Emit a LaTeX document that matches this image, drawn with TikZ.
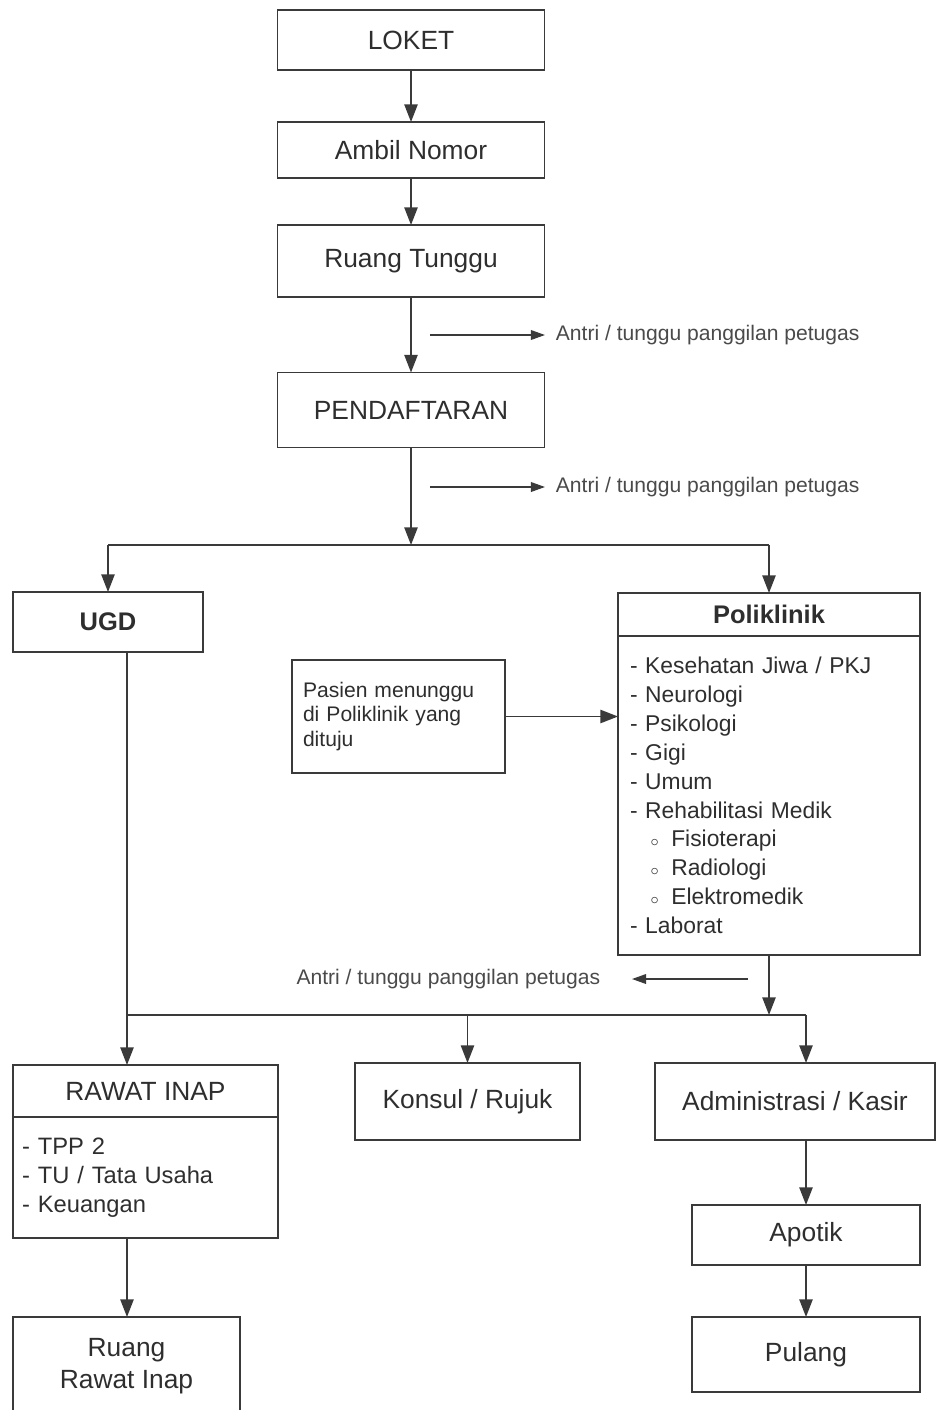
\documentclass[tikz,border=0pt]{standalone}
\usepackage{fontspec}
\setmainfont{Liberation Sans}
\usetikzlibrary{
  arrows.meta,
  positioning,
  calc
}
\definecolor{fxLine}{HTML}{3A3A3A}
\definecolor{fxText}{HTML}{2E2E2E}
\definecolor{fxNote}{HTML}{4A4A4A}
\newcommand{\polisub}[1]{\hspace*{0.9em}{\small$\circ$}\hspace{0.55em}#1}
\tikzset{
  fxbox/.style={
    draw=fxLine, line width=1pt, text=fxText, align=center,
    inner sep=2pt, outer sep=0pt, font=\fontsize{15}{18}\selectfont
  },
  fxhead/.style={fxbox, font=\fontsize{14.5}{17}\selectfont\bfseries},
  fxlist/.style={fxbox, align=left, anchor=north},
  fxnote/.style={text=fxNote, inner sep=2pt, font=\fontsize{12}{14}\selectfont},
  flow/.style={-{Triangle[length=10pt, width=7.5pt]}, line width=1pt, fxLine},
  link/.style={line width=1pt, fxLine},
  noteflow/.style={-{Triangle[length=8pt, width=5.5pt]}, line width=0.8pt, fxLine}
}

\begin{document}
\begin{tikzpicture}[x=0.02cm, y=-0.02cm]
  \clip (0,0) rectangle (936,1410);

  % main column
  \node[fxbox, minimum width=5.34cm, minimum height=1.2cm] (loket) at (411,40) {LOKET};
  \node[fxbox, minimum width=5.34cm, minimum height=1.12cm] (ambil) at (411,150) {Ambil Nomor};
  \node[fxbox, minimum width=5.34cm, minimum height=1.44cm] (tunggu) at (411,261) {Ruang Tunggu};
  \node[fxbox, minimum width=5.34cm, minimum height=1.5cm] (daftar) at (411,410) {PENDAFTARAN};

  \node[fxnote, anchor=west] (antri1) at (552,335) {Antri / tunggu panggilan petugas};
  \node[fxnote, anchor=west] (antri2) at (552,487) {Antri / tunggu panggilan petugas};
  \coordinate (n1) at (430,335);
  \coordinate (n2) at (430,487);
  \coordinate (bus1) at (411,545);

  % UGD and Poliklinik
  \node[fxhead, minimum width=3.8cm, minimum height=1.2cm] (ugd) at (108,622) {UGD};
  \node[fxhead, minimum width=6.04cm, minimum height=0.86cm] (poli) at (769,614.5) {Poliklinik};
  \node[fxlist, minimum width=6.04cm, minimum height=6.38cm, inner xsep=0.24cm,
        text width=5.56cm, font=\fontsize{13}{16.4}\selectfont] (polilist) at (poli.south) {%
    - Kesehatan Jiwa / PKJ\\
    - Neurologi\\
    - Psikologi\\
    - Gigi\\
    - Umum\\
    - Rehabilitasi Medik\\
    \polisub{Fisioterapi}\\
    \polisub{Radiologi}\\
    \polisub{Elektromedik}\\
    - Laborat};
  \node[fxbox, align=left, minimum width=4.26cm, minimum height=2.26cm, inner xsep=0.22cm,
        text width=3.82cm, font=\fontsize{12}{14.2}\selectfont] (pasien) at (398.5,716.5)
    {Pasien menunggu\\ di Poliklinik yang\\ dituju};

  \node[fxnote, anchor=east] (antri3) at (604,979) {Antri / tunggu panggilan petugas};
  \coordinate (n3) at (748,979);
  \coordinate (bus2) at (768,1015);
  \coordinate (ugdx) at (127,0);

  % lower row
  \node[fxbox, minimum width=5.3cm, minimum height=1.04cm] (rawat) at (145.5,1091) {RAWAT INAP};
  \node[fxlist, minimum width=5.3cm, minimum height=2.42cm, inner xsep=0.18cm,
        text width=4.94cm, font=\fontsize{13.5}{16.4}\selectfont] (rawatlist) at (rawat.south) {%
    - TPP 2\\
    - TU / Tata Usaha\\
    - Keuangan};
  \node[fxbox, minimum width=4.5cm, minimum height=1.54cm] (konsul) at (467.5,1101.5) {Konsul / Rujuk};
  \node[fxbox, minimum width=5.6cm, minimum height=1.54cm] (admin) at (795,1101.5) {Administrasi / Kasir};
  \node[fxbox, minimum width=4.56cm, minimum height=1.2cm] (apotik) at (806,1235) {Apotik};
  \node[fxbox, minimum width=4.56cm, minimum height=1.5cm] (pulang) at (806,1354.5) {Pulang};
  \node[fxbox, minimum width=4.54cm, minimum height=1.96cm,
        font=\fontsize{15}{18}\selectfont] (ruanginap) at (126.5,1366) {Ruang\\ Rawat Inap};

  % connectors
  \draw[flow] (loket) -- (ambil);
  \draw[flow] (ambil) -- (tunggu);
  \draw[flow] (tunggu) -- (daftar);
  \draw[flow] (daftar) -- (bus1);
  \draw[noteflow, shorten >=0.14cm] (n1) -- (antri1);
  \draw[noteflow, shorten >=0.14cm] (n2) -- (antri2);
  \draw[link] (ugd.north |- bus1) -- (poli.north |- bus1);
  \draw[flow] (ugd.north |- bus1) -- (ugd);
  \draw[flow] (poli.north |- bus1) -- (poli);
  \draw[flow] (pasien.east) -- (pasien.east -| polilist.west);
  \draw[flow] (ugdx |- ugd.south) -- (ugdx |- rawat.north);
  \draw[flow] (polilist) -- (polilist.south |- bus2);
  \draw[noteflow, shorten >=0.56cm] (n3) -- (antri3.east);
  \draw[link] (ugdx |- bus2) -- (apotik.north |- bus2);
  \draw[flow] (konsul.north |- bus2) -- (konsul);
  \draw[flow] (apotik.north |- bus2) -- (apotik.north |- admin.north);
  \draw[flow] (apotik.north |- admin.south) -- (apotik);
  \draw[flow] (apotik) -- (pulang);
  \draw[flow] (ugdx |- rawatlist.south) -- (ugdx |- ruanginap.north);
\end{tikzpicture}
\end{document}
